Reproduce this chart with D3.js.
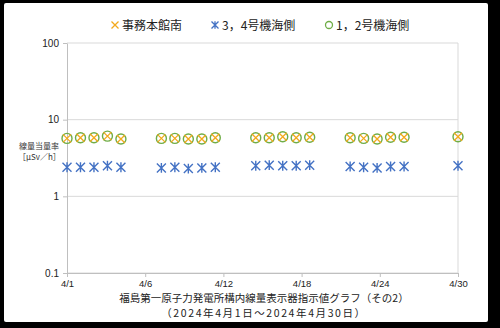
<!DOCTYPE html>
<html>
<head>
<meta charset="utf-8">
<script src="https://cdn.jsdelivr.net/npm/d3@7"></script>
<style>
  body { margin: 0; background: #000; }
  svg { display: block; font-family: "Noto Sans CJK JP", "Noto Sans", sans-serif; }
</style>
</head>
<body>
<script>
// DATA
const days = [1, 2, 3, 4, 5, 8, 9, 10, 11, 12, 15, 16, 17, 18, 19, 22, 23, 24, 25, 26, 30];
const honkan = [5.7, 5.8, 5.8, 6.1, 5.6, 5.7, 5.7, 5.6, 5.6, 5.8, 5.8, 5.8, 6.0, 5.8, 5.9, 5.8, 5.7, 5.6, 5.9, 5.9, 6.0];
const unit34 = [2.4, 2.4, 2.4, 2.5, 2.4, 2.35, 2.4, 2.3, 2.35, 2.4, 2.5, 2.55, 2.5, 2.5, 2.55, 2.45, 2.4, 2.35, 2.45, 2.45, 2.5];
const unit12 = [5.7, 5.8, 5.8, 6.1, 5.6, 5.7, 5.7, 5.6, 5.6, 5.8, 5.8, 5.8, 6.0, 5.8, 5.9, 5.8, 5.7, 5.6, 5.9, 5.9, 6.0];
const seriesNames = ["事務本館南", "3，4号機海側", "1，2号機海側"];
const xTickLabels = ["4/1", "4/6", "4/12", "4/18", "4/24", "4/30"];
const yTickValues = [0.1, 1, 10, 100];
const yTickLabels = ["0.1", "1", "10", "100"];

const width = 500;
const height = 328;
const plotLeft = 67, plotRight = 458, plotTop = 43, plotBottom = 273;
const ORANGE = "#f2a91c", BLUE = "#4472c4", GREEN = "#70ad47";

const svg = d3.select("body").append("svg")
  .attr("width", width)
  .attr("height", height);

// frame
svg.append("rect").attr("width", width).attr("height", height).attr("fill", "#000");
svg.append("rect")
  .attr("x", 4).attr("y", 3).attr("width", 484).attr("height", 319)
  .attr("rx", 2).attr("fill", "#fff");

// SCALES
const start = new Date(2024, 3, 1), end = new Date(2024, 3, 30);
const xScale = d3.scaleTime().domain([start, end]).range([plotLeft, plotRight]);
const yScale = d3.scaleLog().domain([0.1, 100]).range([plotBottom, plotTop]);
const toDate = (d) => new Date(2024, 3, d);

// gridlines
svg.append("g")
  .selectAll("line")
  .data(yTickValues)
  .join("line")
  .attr("x1", plotLeft).attr("x2", plotRight)
  .attr("y1", (d) => yScale(d)).attr("y2", (d) => yScale(d))
  .attr("stroke", "#d9d9d9");

svg.append("line")
  .attr("x1", plotRight).attr("x2", plotRight).attr("y1", plotTop).attr("y2", plotBottom)
  .attr("stroke", "#d9d9d9");

// AXES
const xTicks = d3.range(xTickLabels.length).map(
  (i) => new Date(+start + (i * (end - start)) / (xTickLabels.length - 1))
);
const xAxis = d3.axisBottom(xScale)
  .tickValues(xTicks)
  .tickFormat((d, i) => xTickLabels[i])
  .tickSize(4)
  .tickSizeOuter(0);
const gx = svg.append("g")
  .attr("transform", `translate(0,${plotBottom})`)
  .call(xAxis);
gx.select(".domain").attr("stroke", "#bfbfbf");
gx.selectAll(".tick line").attr("stroke", "#bfbfbf");
gx.selectAll(".tick text")
  .attr("y", 7)
  .attr("font-size", 9.5)
  .attr("fill", "#222");

const yAxis = d3.axisLeft(yScale)
  .tickValues(yTickValues)
  .tickFormat((d, i) => yTickLabels[i])
  .tickSize(4)
  .tickSizeOuter(0);
const gy = svg.append("g")
  .attr("transform", `translate(${plotLeft},0)`)
  .call(yAxis);
gy.select(".domain").attr("stroke", "#bfbfbf");
gy.selectAll(".tick line").attr("stroke", "#bfbfbf");
gy.selectAll(".tick text")
  .attr("x", -8)
  .attr("font-size", 10)
  .attr("fill", "#222");

// y axis title
svg.append("text").attr("x", 19).attr("y", 149)
  .attr("font-size", 8).attr("fill", "#333").text("線量当量率");
svg.append("text").attr("x", 18).attr("y", 160)
  .attr("font-size", 8).attr("fill", "#333").text("［μSv／h］");

// MARKERS
const drawCross = (g, x, y, r, color, w) => {
  g.append("path")
    .attr("d", `M${x - r},${y - r}L${x + r},${y + r}M${x - r},${y + r}L${x + r},${y - r}`)
    .attr("stroke", color).attr("stroke-width", w).attr("fill", "none");
};
const drawStar = (g, x, y, r, color, w) => {
  g.append("path")
    .attr("d", `M${x},${y - r * 1.1}L${x},${y + r * 1.1}` +
      `M${x - r},${y - r}L${x + r},${y + r}M${x - r},${y + r}L${x + r},${y - r}`)
    .attr("stroke", color).attr("stroke-width", w).attr("fill", "none");
};
const drawCircle = (g, x, y, r, color, w) => {
  g.append("circle")
    .attr("cx", x).attr("cy", y).attr("r", r)
    .attr("stroke", color).attr("stroke-width", w).attr("fill", "none");
};

const marks = svg.append("g");
days.forEach((d, i) => {
  const x = xScale(toDate(d));
  drawStar(marks, x, yScale(unit34[i]), 4.5, BLUE, 1.4);
  drawCircle(marks, x, yScale(unit12[i]), 5, GREEN, 1.4);
  drawCross(marks, x, yScale(honkan[i]), 4, ORANGE, 1.3);
});

// LEGEND
const legend = svg.append("g");
const legendX = [115, 215, 329];
const legendY = 25;
const legendDraw = [
  (g, x) => drawCross(g, x, legendY, 3.5, ORANGE, 1.3),
  (g, x) => drawStar(g, x, legendY, 3.5, BLUE, 1.3),
  (g, x) => drawCircle(g, x, legendY, 3.5, GREEN, 1.3),
];
seriesNames.forEach((name, i) => {
  legendDraw[i](legend, legendX[i]);
  legend.append("text")
    .attr("x", legendX[i] + 7)
    .attr("y", legendY + 4.5)
    .attr("font-size", 12)
    .attr("fill", "#222")
    .text(name);
});

// TITLE
svg.append("text")
  .attr("x", 264).attr("y", 302)
  .attr("text-anchor", "middle")
  .attr("font-size", 10.5)
  .attr("fill", "#222")
  .text("福島第一原子力発電所構内線量表示器指示値グラフ（その2）");
svg.append("text")
  .attr("x", 264).attr("y", 317)
  .attr("text-anchor", "middle")
  .attr("font-size", 10.5)
  .attr("letter-spacing", 1.6)
  .attr("fill", "#222")
  .text("（2024年4月1日～2024年4月30日）");
</script>
</body>
</html>
